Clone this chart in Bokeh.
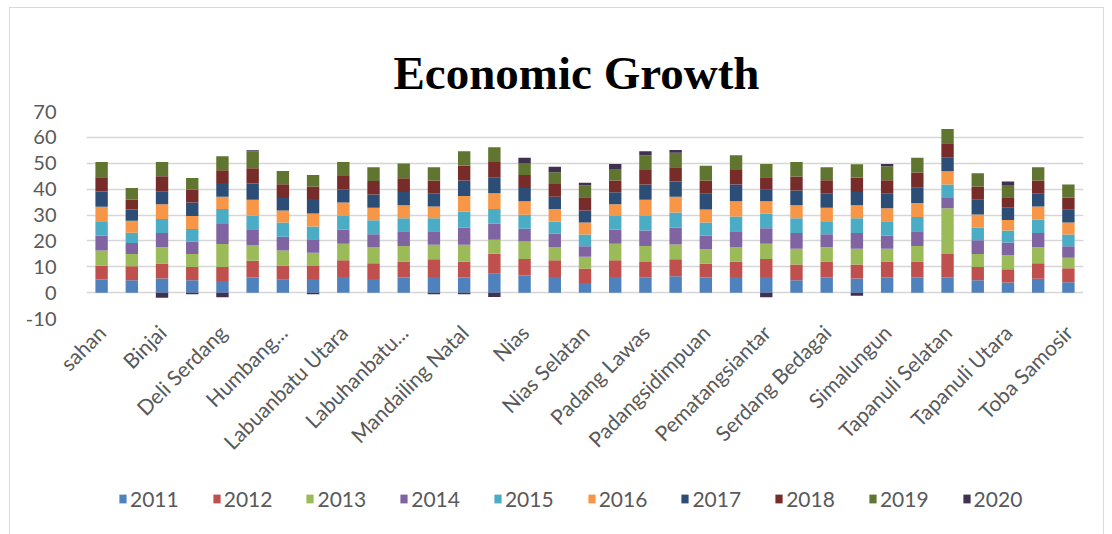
from bokeh.plotting import figure
from bokeh.models import ColumnDataSource, FixedTicker, Legend, LegendItem, Spacer
from bokeh.layouts import column, row
from bokeh.embed import file_html
from bokeh.resources import INLINE

# ---------------- data ----------------
regions = ["Asahan", "Batubara", "Binjai", "Dairi", "Deli Serdang", "Gunungsitoli",
           "Humbang Hasundutan", "Karo", "Labuanbatu Utara", "Labuhanbatu",
           "Labuhanbatu Selatan", "Langkat", "Mandailing Natal", "Medan", "Nias",
           "Nias Barat", "Nias Selatan", "Nias Utara", "Padang Lawas",
           "Padang Lawas Utara", "Padangsidimpuan", "Pakpak Bharat",
           "Pematangsiantar", "Samosir", "Serdang Bedagai", "Sibolga", "Simalungun",
           "Tanjungbalai", "Tapanuli Selatan", "Tapanuli Tengah", "Tapanuli Utara",
           "Tebing Tinggi", "Toba Samosir"]

# labels shown on the axis (every other category, as in the original)
tick_labels = ["sahan", "Binjai", "Deli Serdang", "Humbang...", "Labuanbatu Utara",
               "Labuhanbatu...", "Mandailing Natal", "Nias", "Nias Selatan",
               "Padang Lawas", "Padangsidimpuan", "Pematangsiantar",
               "Serdang Bedagai", "Simalungun", "Tapanuli Selatan", "Tapanuli Utara",
               "Toba Samosir"]

years = ["2011", "2012", "2013", "2014", "2015", "2016", "2017", "2018", "2019", "2020"]

g2011 = [5.1, 4.8, 5.5, 4.8, 4.5, 5.8, 5.0, 5.3, 6.0, 5.3, 5.8, 6.0, 5.8, 7.3, 6.6, 6.0, 3.7,
         6.0, 5.9, 6.3, 5.8, 6.0, 6.0, 4.8, 5.8, 5.5, 5.8, 5.8, 5.8, 4.8, 3.9, 5.4, 4.0]
g2012 = [5.3, 5.4, 5.8, 5.1, 5.4, 6.5, 5.5, 5.0, 6.5, 6.1, 6.2, 6.9, 6.2, 7.7, 6.4, 6.5, 5.6,
         6.5, 5.9, 6.6, 5.4, 6.0, 7.0, 6.1, 6.2, 5.4, 6.2, 6.2, 9.1, 5.1, 5.1, 6.0, 5.4]
g2013 = [5.9, 4.7, 6.2, 5.0, 8.9, 6.1, 5.8, 5.1, 6.4, 6.2, 6.0, 5.6, 6.5, 5.4, 6.8, 5.1, 4.6,
         6.4, 6.2, 5.7, 5.6, 5.6, 5.9, 6.1, 5.5, 6.1, 5.0, 6.0, 17.7, 5.0, 5.4, 6.1, 4.1]
g2014 = [5.8, 4.3, 5.5, 4.8, 7.7, 6.1, 5.3, 5.2, 5.4, 5.0, 5.7, 5.2, 6.7, 6.2, 4.9, 5.2, 4.0,
         5.4, 6.0, 6.5, 5.2, 6.1, 6.0, 6.0, 5.1, 6.0, 5.1, 5.7, 4.0, 5.3, 5.0, 5.5, 4.4]
g2015 = [5.5, 3.9, 5.5, 4.9, 5.8, 5.2, 5.5, 5.0, 5.3, 5.4, 5.0, 5.0, 6.2, 5.7, 5.4, 4.7, 4.6,
         5.3, 5.6, 5.9, 5.1, 5.7, 5.6, 5.7, 5.0, 5.7, 5.5, 5.5, 5.2, 4.9, 4.6, 5.3, 4.6]
g2016 = [5.6, 4.7, 5.7, 5.0, 4.8, 6.2, 4.6, 5.0, 5.2, 4.8, 5.1, 4.6, 5.9, 6.1, 5.2, 4.8, 4.6,
         4.6, 6.3, 6.1, 5.0, 5.9, 4.8, 5.1, 5.2, 5.1, 5.0, 5.4, 5.1, 5.1, 4.1, 5.0, 4.6]
g2017 = [5.9, 4.3, 5.0, 5.2, 5.3, 6.3, 4.9, 5.6, 5.2, 5.1, 5.1, 5.1, 6.0, 6.2, 5.1, 4.8, 4.6,
         4.6, 5.9, 5.8, 6.1, 6.5, 4.5, 5.7, 5.6, 5.1, 5.8, 5.9, 5.4, 5.7, 4.9, 5.1, 4.9]
g2018 = [5.5, 3.9, 5.8, 5.0, 4.9, 5.9, 5.3, 4.8, 5.1, 5.2, 5.3, 4.9, 5.8, 5.9, 5.1, 4.9, 5.2,
         4.5, 5.6, 5.6, 5.1, 5.6, 4.8, 5.4, 5.0, 5.6, 5.0, 5.9, 5.4, 5.1, 3.9, 4.9, 4.8]
g2019 = [5.9, 4.4, 5.5, 4.5, 5.4, 6.5, 5.1, 4.5, 5.4, 5.4, 5.7, 5.2, 5.5, 5.7, 4.6, 4.5, 4.6,
         4.5, 5.7, 5.6, 5.7, 5.7, 5.1, 5.6, 5.1, 5.1, 5.4, 5.7, 5.5, 5.1, 4.7, 5.2, 5.0]
g2020 = [0.0, 0.0, -2.0, -0.6, -1.8, 0.4, 0.0, -0.6, 0.0, 0.0, 0.0, -0.6, -0.6, -1.7, 2.0,
         2.1, 1.0, 1.9, 1.5, 1.0, 0.0, 0.0, -1.8, 0.0, 0.0, -1.2, 0.9, 0.0, 0.0, 0.0, 1.3,
         0.0, 0.0]

series = [g2011, g2012, g2013, g2014, g2015, g2016, g2017, g2018, g2019, g2020]
colors = ["#4F81BD", "#C0504D", "#9BBB59", "#8064A2", "#4BACC6", "#F79646",
          "#2C4D75", "#772C2A", "#5F7530", "#403151"]

FONT = "Lato"
INNER_W = 1093
BL, BR = 76, 20   # left / right borders (same for both strips)

# ---------------- main chart ----------------
p = figure(width=INNER_W, height=462, output_backend="svg", toolbar_location=None,
           x_range=(-0.5, len(regions) - 0.5), y_range=(-10, 70),
           min_border_left=BL, min_border_right=BR, min_border_top=103,
           min_border_bottom=152)
p.outline_line_color = None
p.background_fill_color = "white"
p.border_fill_color = "white"

p.title.text = "Economic Growth"
p.title.align = "left"
p.title.offset = 307
p.title.text_font = "Liberation Serif"
p.title.text_font_style = "bold"
p.title.text_font_size = "47px"
p.title.text_color = "black"
p.title.standoff = 25

# Excel-style stacking: positives upward from 0, negatives downward from 0
x = list(range(len(regions)))
pos = [0.0] * len(regions)
neg = [0.0] * len(regions)
sources = []
for yr, vals, col in zip(years, series, colors):
    bottoms, tops = [], []
    for i, v in enumerate(vals):
        if v >= 0:
            bottoms.append(pos[i]); tops.append(pos[i] + v); pos[i] += v
        else:
            bottoms.append(neg[i] + v); tops.append(neg[i]); neg[i] += v
    src = ColumnDataSource(dict(x=x, bottom=bottoms, top=tops, region=regions))
    sources.append(src)
    p.vbar(x="x", bottom="bottom", top="top", width=0.41, source=src,
           fill_color=col, line_color=None)

p.xaxis.ticker = FixedTicker(ticks=list(range(0, len(regions), 2)))
p.xaxis.major_label_overrides = {i * 2: t for i, t in enumerate(tick_labels)}
p.xaxis.major_label_orientation = 0.785398
p.xaxis.axis_line_color = None
p.xaxis.major_tick_line_color = None
p.xaxis.minor_tick_line_color = None
p.xaxis.major_label_standoff = 4
p.xaxis.major_label_text_font = FONT
p.xaxis.major_label_text_font_size = "21px"
p.xaxis.major_label_text_color = "#595959"

yticks = [-10, 0, 10, 20, 30, 40, 50, 60, 70]
p.yaxis.ticker = FixedTicker(ticks=yticks)
p.yaxis.major_label_overrides = {t: str(t) for t in yticks}
p.yaxis.axis_line_color = None
p.yaxis.major_tick_line_color = None
p.yaxis.minor_tick_line_color = None
p.yaxis.major_label_standoff = 24
p.yaxis.major_label_text_font = FONT
p.yaxis.major_label_text_font_size = "20px"
p.yaxis.major_label_text_color = "#595959"

p.xgrid.grid_line_color = None
p.ygrid.grid_line_color = "#d6d6d6"
p.ygrid.grid_line_width = 1.5

# ---------------- legend strip (same series, view range kept empty) ----------------
q = figure(width=INNER_W, height=64, output_backend="svg", toolbar_location=None,
           x_range=(-0.5, len(regions) - 0.5), y_range=(1000, 1001),
           x_axis_type=None, y_axis_type=None,
           min_border_left=BL, min_border_right=BR, min_border_top=0,
           min_border_bottom=0)
q.outline_line_color = None
q.grid.grid_line_color = None
q.border_fill_color = "white"
q.background_fill_color = "white"
items = []
for yr, col, src in zip(years, colors, sources):
    r = q.vbar(x="x", bottom="bottom", top="top", width=0.41, source=src,
               fill_color=col, line_color=None)
    items.append(LegendItem(label=yr, renderers=[r]))
legend = Legend(items=items, orientation="horizontal", location=(32, 23),
                glyph_width=9, glyph_height=11, label_standoff=3, spacing=33,
                padding=0, margin=0, border_line_color=None,
                background_fill_alpha=0,
                label_text_font=FONT, label_text_font_size="21px",
                label_text_color="#595959")
q.add_layout(legend, "center")

chart = column(p, q, spacing=0, styles={"outline": "1px solid #d9d9d9"})
layout = column(Spacer(width=1112, height=8),
                row(Spacer(width=10, height=526), chart, spacing=0), spacing=0)

open("out.html", "w").write(file_html(layout, INLINE))
